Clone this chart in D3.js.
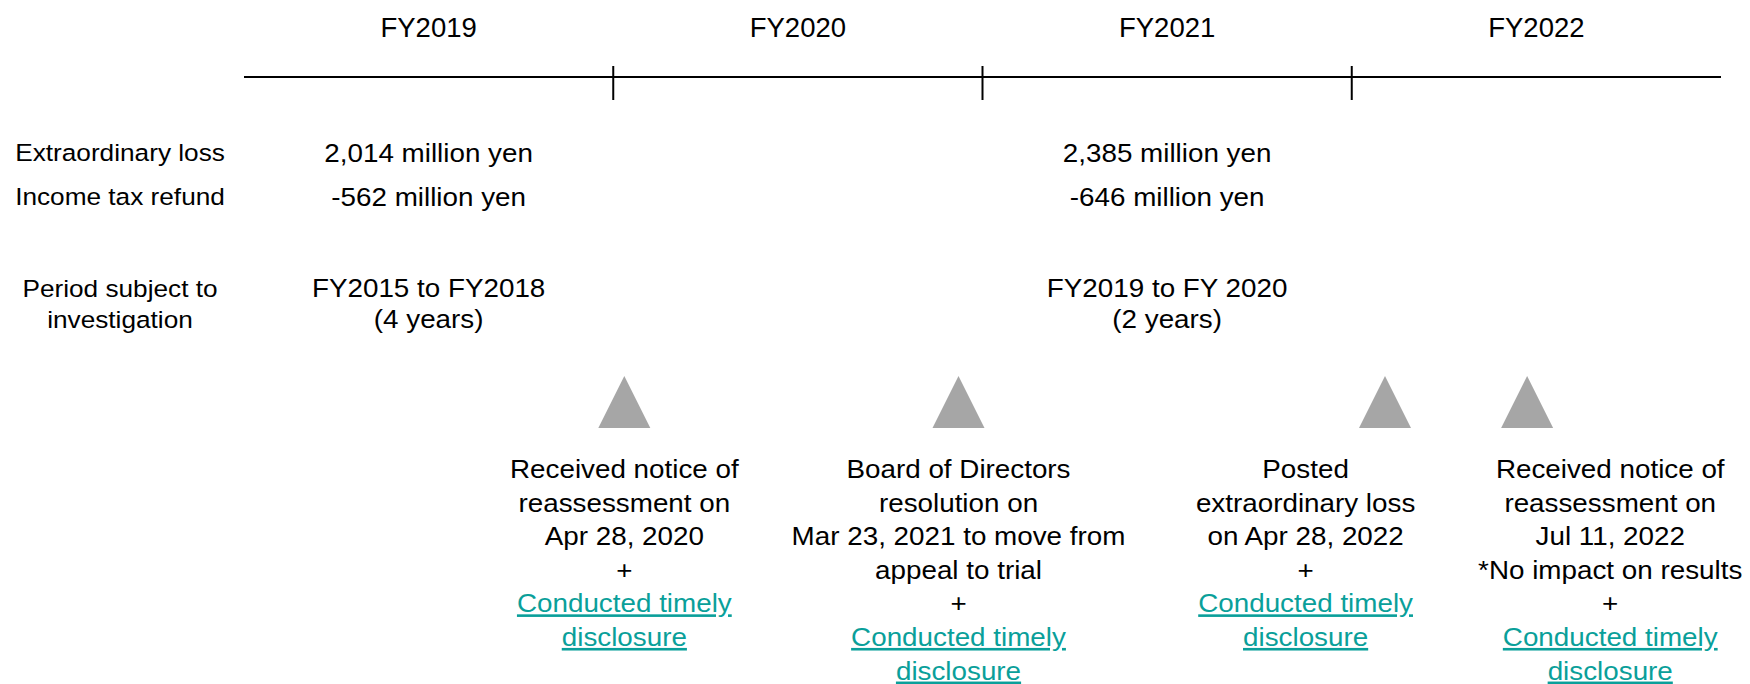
<!DOCTYPE html>
<html>
<head>
<meta charset="utf-8">
<script src="https://cdn.jsdelivr.net/npm/d3@7"></script>
<style>
  html, body { margin: 0; padding: 0; background: #fff; }
  svg text { font-family: "Liberation Sans", Arial, sans-serif; fill: #000; }
</style>
</head>
<body>
<div id="chart"></div>
<script>
// fiscal years along the timeline
const years = ['FY2019', 'FY2020', 'FY2021', 'FY2022'];

// left-hand row labels
const rowLabels = [['Extraordinary loss'], ['Income tax refund'], ['Period subject to', 'investigation']];

// the two investigation columns, in fiscal-year units on the timeline
const columnYear = [0.5, 2.5];
const lossValues = ['2,014 million yen', '2,385 million yen'];
const refundValues = ['-562 million yen', '-646 million yen'];
const periods = [['FY2015 to FY2018', '(4 years)'], ['FY2019 to FY 2020', '(2 years)']];

// events (marker position and text position, in fiscal-year units)
const eventYear = [1.03, 1.935, 3.09, 3.475];
const eventTextYear = [1.03, 1.935, 2.875, 3.7];
const eventLines = [
    ['Received notice of', 'reassessment on', 'Apr 28, 2020'],
    ['Board of Directors', 'resolution on', 'Mar 23, 2021 to move from', 'appeal to trial'],
    ['Posted', 'extraordinary loss', 'on Apr 28, 2022'],
    ['Received notice of', 'reassessment on', 'Jul 11, 2022', '*No impact on results']
];
const linkLines = ['Conducted timely', 'disclosure'];

const width = 1750, height = 684;
const sx = 1.07;          // source text is slightly wide
const lineY = 77;
const linkColor = '#0a9f9a';

const svg = d3.select('#chart').append('svg')
    .attr('width', width)
    .attr('height', height);

const x = d3.scaleLinear().domain([0, years.length]).range([244, 1721]);

// draws a centred text line, stretched horizontally like the source
function label(g, cx, y, txt, size) {
    return g.append('text')
        .attr('transform', `translate(${cx},${y}) scale(${sx},1)`)
        .attr('text-anchor', 'middle')
        .attr('font-size', size)
        .text(txt);
}

// timeline
svg.append('line')
    .attr('x1', x(0)).attr('x2', x(years.length))
    .attr('y1', lineY).attr('y2', lineY)
    .attr('stroke', '#000').attr('stroke-width', 2);

svg.append('g').selectAll('line')
    .data(d3.range(1, years.length))
    .join('line')
    .attr('x1', d => x(d)).attr('x2', d => x(d))
    .attr('y1', lineY - 11).attr('y2', lineY + 23)
    .attr('stroke', '#000').attr('stroke-width', 2);

const header = svg.append('g');
years.forEach((yr, i) => {
    header.append('text')
        .attr('x', x(i + 0.5)).attr('y', 37)
        .attr('text-anchor', 'middle')
        .attr('font-size', 27.5)
        .text(yr);
});

// table rows
const rows = svg.append('g');
const rowBase = [161, 205, 297];
const lh = 31;
rowLabels.forEach((lines, r) => {
    lines.forEach((t, k) => label(rows, 120, rowBase[r] + k * lh, t, 24.5));
});
columnYear.forEach((c, i) => {
    label(rows, x(c), rowBase[0] + 1, lossValues[i], 26);
    label(rows, x(c), rowBase[1] + 1, refundValues[i], 26);
    periods[i].forEach((t, k) => label(rows, x(c), rowBase[2] + k * lh, t, 26));
});

// event markers
const tri = 26;
svg.append('g').selectAll('path')
    .data(eventYear)
    .join('path')
    .attr('d', d => {
        const cx = x(d);
        return `M${cx},376 L${cx + tri},428 L${cx - tri},428 Z`;
    })
    .attr('fill', '#a6a6a6');

// event texts
const ev = svg.append('g');
const evTop = 478, evLh = 33.6;
eventLines.forEach((lines, i) => {
    const cx = x(eventTextYear[i]);
    const all = lines.concat(['+']);
    all.forEach((t, k) => label(ev, cx, evTop + k * evLh, t, 26));
    linkLines.forEach((t, k) => {
        label(ev, cx, evTop + (all.length + k) * evLh, t, 26)
            .attr('text-decoration', 'underline')
            .style('fill', linkColor);
    });
});
</script>
</body>
</html>
